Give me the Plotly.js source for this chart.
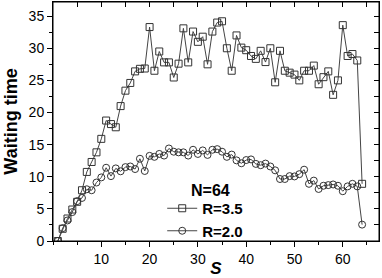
<!DOCTYPE html>
<html>
<head>
<meta charset="utf-8">
<script src="https://cdn.plot.ly/plotly-3.0.1.min.js"></script>
<style>
  html, body { margin: 0; padding: 0; background: #fff; }
  #chart { width: 382px; height: 278px; }
</style>
</head>
<body>
<div id="chart"></div>
<script>
// s = 1..64
var s_values = [];
for (var i = 1; i <= 64; i++) s_values.push(i);

// R=3.5 (squares)
var wait_r35 = [
  0, 1.9, 3.5, 4.9, 6.1, 7.9, 10.75, 12.3, 13.8, 15.9,
  18.75, 18.2, 17.7, 21.0, 23.4, 24.6, 26.4, 26.8, 26.85, 33.3,
  26.5, 29.5, 27.8, 27.8, 25.45, 27.6, 33.1, 27.8, 32.6, 31.0,
  31.8, 27.5, 32.6, 34.0, 34.2, 30.0, 26.5, 32.0, 30.1, 29.7,
  28.8, 28.35, 29.6, 27.85, 30.0, 24.7, 29.6, 26.5, 26.2, 25.9,
  25.0, 26.5, 26.5, 27.3, 24.4, 25.5, 26.4, 22.75, 25.0, 33.6,
  28.8, 29.1, 28.1, 8.9
];

// R=2.0 (circles)
var wait_r20 = [
  0, 2.0, 3.2, 4.5, 6.2, 6.7, 8.05, 7.9, 9.1, 9.9,
  11.4, 10.1, 11.3, 10.85, 11.5, 11.6, 11.2, 12.8, 10.9, 13.25,
  13.1, 13.55, 13.3, 14.4, 13.9, 13.8, 13.8, 13.3, 14.2, 13.55,
  14.1, 13.4, 14.2, 14.3, 13.9, 13.1, 13.45, 12.55, 12.1, 12.6,
  12.7, 12.0, 11.8, 12.05, 11.6, 11.0, 9.65, 9.65, 10.1, 10.05,
  10.4, 11.1, 8.9, 9.4, 8.1, 8.6, 8.7, 8.8, 8.6, 7.75,
  8.5, 8.9, 8.5, 2.55
];

var xTicks = [10, 20, 30, 40, 50, 60];
var yTicks = [0, 5, 10, 15, 20, 25, 30, 35];

var fontFam = '"Liberation Sans", Arial, sans-serif';

// squares sit on the mirror axes (x2/y2, same ranges) so the top/right ticks get drawn
var data = [
  {
    x: s_values, y: wait_r35, name: 'R=3.5',
    xaxis: 'x2', yaxis: 'y2',
    type: 'scatter', mode: 'lines+markers',
    line: { color: '#444', width: 1 },
    marker: { symbol: 'square-open', size: 7, color: '#333', line: { width: 1 } }
  },
  {
    x: s_values, y: wait_r20, name: 'R=2.0',
    type: 'scatter', mode: 'lines+markers',
    line: { color: '#444', width: 1 },
    marker: { symbol: 'circle-open', size: 7, color: '#333', line: { width: 1 } }
  }
];

var xr = [0, 67.5];
var yr = [0, 37.2];

var layout = {
  width: 382, height: 278,
  margin: { l: 53, r: 3, t: 2, b: 37 },
  paper_bgcolor: '#fff', plot_bgcolor: '#fff',
  font: { family: fontFam, size: 14, color: '#000' },
  showlegend: true,
  legend: {
    x: 0.335, y: 0.205, xanchor: 'left', yanchor: 'top',
    bgcolor: 'rgba(0,0,0,0)',
    font: { size: 15, weight: 'bold' },
    tracegroupgap: 0, traceorder: 'normal'
  },
  annotations: [{
    text: '<b>N=64</b>', xref: 'paper', yref: 'paper',
    x: 0.482, y: 0.21, xanchor: 'center', yanchor: 'middle',
    showarrow: false, font: { size: 16 }
  }],
  // plot frame
  shapes: [{
    type: 'rect', xref: 'paper', yref: 'paper', x0: 0, x1: 1, y0: 0, y1: 1,
    line: { color: '#000', width: 1 }, fillcolor: 'rgba(0,0,0,0)', layer: 'above'
  }],
  xaxis: {
    range: xr, showgrid: false, zeroline: false,
    showline: true, linecolor: '#000', linewidth: 1,
    ticks: 'outside', ticklen: 5, tickcolor: '#000',
    tickvals: xTicks,
    minor: { dtick: 5, tick0: 0, ticks: 'outside', ticklen: 3, tickcolor: '#000' },
    title: { text: '<b><i>S</i></b>', font: { size: 17 }, standoff: 5 }
  },
  yaxis: {
    range: yr, showgrid: false, zeroline: false,
    showline: true, linecolor: '#000', linewidth: 1,
    ticks: 'outside', ticklen: 5, tickcolor: '#000',
    tickvals: yTicks,
    minor: { dtick: 2.5, tick0: 0, ticks: 'outside', ticklen: 3, tickcolor: '#000' },
    title: { text: '<b>Waiting time</b>', font: { size: 18 }, standoff: 6 }
  },
  xaxis2: {
    overlaying: 'x', side: 'top', anchor: 'y2', range: xr,
    showgrid: false, zeroline: false, showticklabels: false,
    showline: true, linecolor: '#000', linewidth: 1,
    ticks: 'inside', ticklen: 5, tickcolor: '#000', tickvals: xTicks,
    minor: { dtick: 5, tick0: 0, ticks: 'inside', ticklen: 5, tickcolor: '#000' }
  },
  yaxis2: {
    overlaying: 'y', side: 'right', anchor: 'x2', range: yr,
    showgrid: false, zeroline: false, showticklabels: false,
    showline: true, linecolor: '#000', linewidth: 1,
    ticks: 'inside', ticklen: 5, tickcolor: '#000', tickvals: yTicks,
    minor: { dtick: 2.5, tick0: 0, ticks: 'inside', ticklen: 5, tickcolor: '#000' }
  }
};

Plotly.newPlot('chart', data, layout, { displayModeBar: false, staticPlot: true });
</script>
</body>
</html>
